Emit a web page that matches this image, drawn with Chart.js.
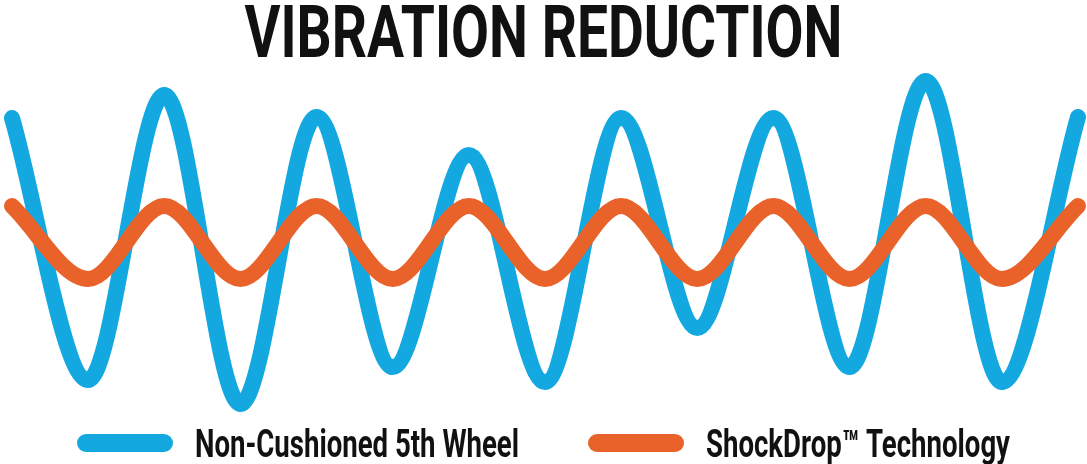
<!DOCTYPE html>
<html>
<head>
<meta charset="utf-8">
<title>Vibration Reduction</title>
<script src="https://cdn.jsdelivr.net/npm/chart.js@4.4.1/dist/chart.umd.min.js"></script>
<style>
    html, body { margin: 0; padding: 0; background: #fff; }
    #wrap { width: 1087px; height: 464px; position: relative; }
</style>
</head>
<body>
<div id="wrap"><canvas id="grafico"></canvas></div>
<script>
// pontos de pico/vale (amplitude relativa)
const amostras = ['1','2','3','4','5','6','7','8','9','10','11','12','13','14','15'];
const semAmortecimento = [13.2, -13.0, 15.5, -15.4, 13.3, -11.7, 9.5, -13.2, 13.2, -7.8, 13.2, -11.7, 16.9, -13.2, 13.3];
const shockDrop = [4.4, -2.9, 4.4, -2.9, 4.4, -2.9, 4.4, -2.9, 4.4, -2.9, 4.4, -2.9, 4.4, -2.9, 4.4];
const nomes = ['Non-Cushioned 5th Wheel', 'ShockDrop\u2122 Technology'];
const titulo = 'VIBRATION REDUCTION';
const cores = ['#14a8e1', '#e8622a'];

const fonte = 'Roboto, "DejaVu Sans", sans-serif';

// titulo e legenda em fonte condensada (nenhuma fonte condensada instalada, entao escala em x)
const textoCondensado = {
    id: 'textoCondensado',
    afterDraw(chart) {
        const c = chart.ctx;
        const meio = chart.width / 2;
        c.save();
        c.fillStyle = '#111';
        c.textBaseline = 'alphabetic';
        c.textAlign = 'left';

        // titulo
        c.font = `bold 73px ${fonte}`;
        const sxTit = 598 / c.measureText(titulo).width;
        c.save();
        c.translate(meio - 299, 57);
        c.scale(sxTit, 1);
        c.fillText(titulo, 0, 0);
        c.restore();

        // legenda
        c.font = `bold 38px ${fonte}`;
        const ds = chart.data.datasets;
        const somaTextos = ds.reduce((s, d) => s + c.measureText(d.label).width, 0);
        const sxLeg = 628 / somaTextos;
        const caixa = 96, gapCaixa = 22, gapItem = 69;
        const larguras = ds.map(d => caixa + gapCaixa + c.measureText(d.label).width * sxLeg);
        let x = meio - (larguras.reduce((a, b) => a + b, 0) + gapItem) / 2;
        ds.forEach((d, i) => {
            c.fillStyle = d.borderColor;
            c.beginPath();
            c.roundRect(x, 434, caixa, 18, 9);
            c.fill();
            c.fillStyle = '#111';
            c.save();
            c.translate(x + caixa + gapCaixa, 457);
            c.scale(sxLeg, 1);
            c.fillText(d.label, 0, 0);
            c.restore();
            x += larguras[i] + gapItem;
        });
        c.restore();
    }
};

const ctx = document.getElementById('grafico').getContext('2d');
new Chart(ctx, {
    type: 'line',
    data: {
        labels: amostras,
        datasets: [
            { label: nomes[0], data: semAmortecimento, borderColor: cores[0], backgroundColor: cores[0], order: 1 },
            { label: nomes[1], data: shockDrop, borderColor: cores[1], backgroundColor: cores[1], order: 0 }
        ]
    },
    options: {
        responsive: true,
        maintainAspectRatio: false,
        animation: false,
        layout: { padding: { left: 12, right: 9, top: 70, bottom: 54 } },
        elements: {
            point: { radius: 0, hoverRadius: 0 },
            line: { borderWidth: 16, borderCapStyle: 'round', borderJoinStyle: 'round', cubicInterpolationMode: 'monotone', fill: false }
        },
        datasets: { line: { clip: false } },
        scales: {
            x: { display: false, offset: false },
            y: { display: false, min: -16, max: 18 }
        },
        plugins: {
            tooltip: { enabled: false },
            title: { display: false },
            legend: { display: false }
        }
    },
    plugins: [textoCondensado]
});
</script>
</body>
</html>
